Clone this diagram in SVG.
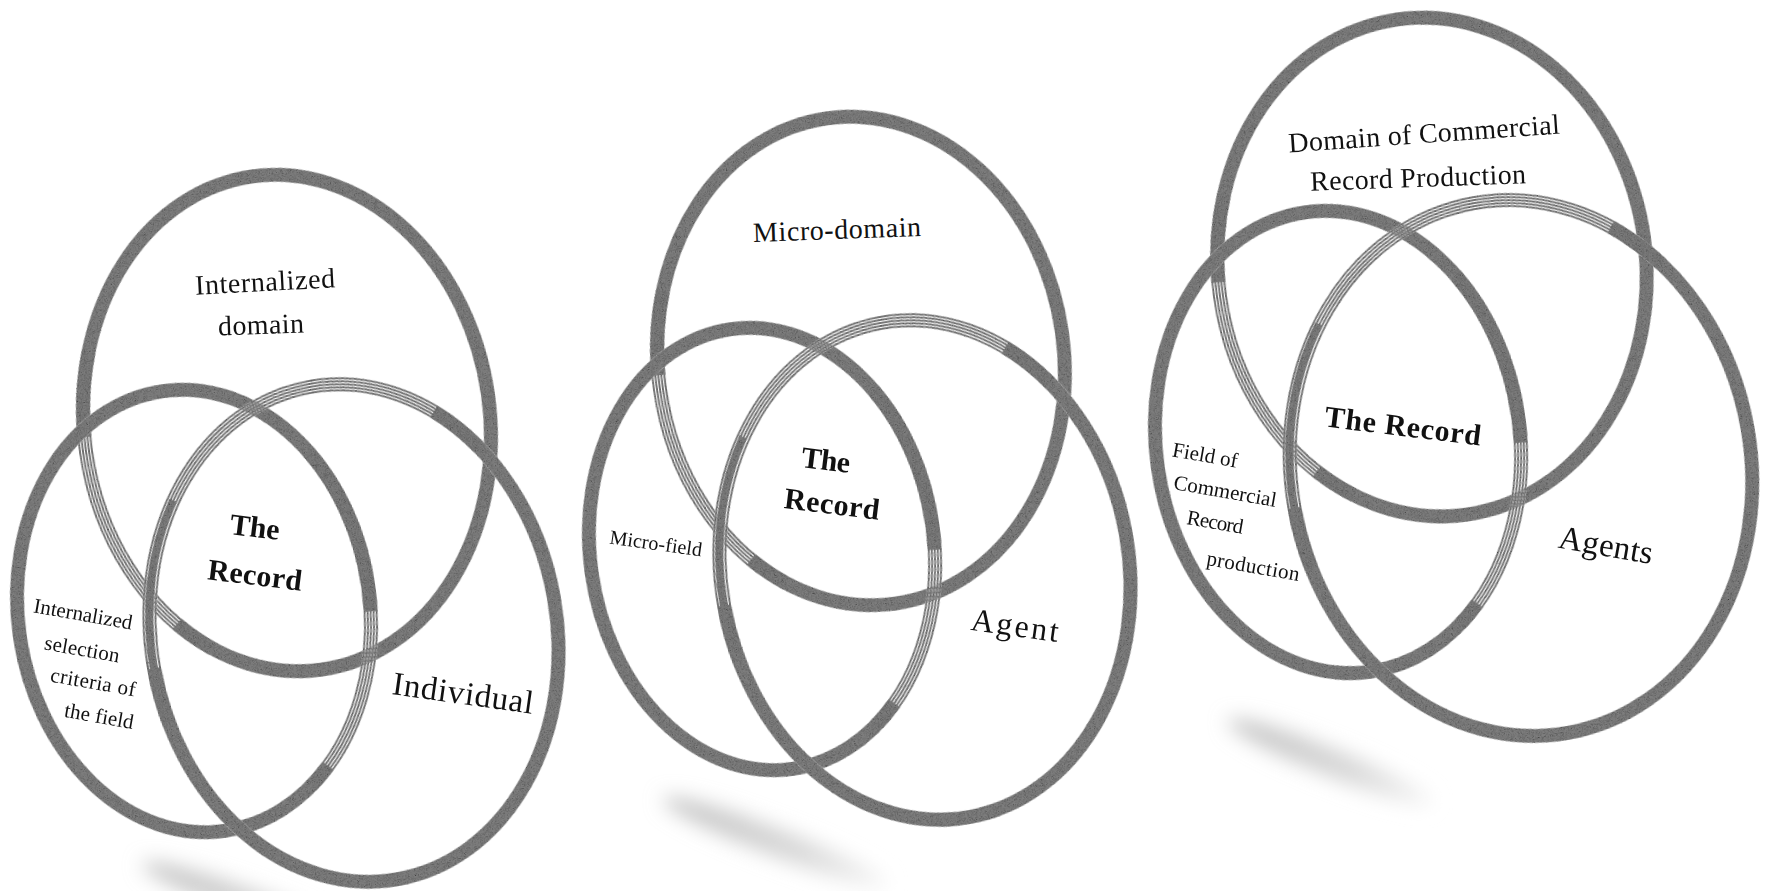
<svg xmlns="http://www.w3.org/2000/svg" width="1767" height="891" viewBox="0 0 1767 891">
  <defs>
    <style>
      .thick { fill: none; stroke: #7e7e7e; stroke-width: 14; }
      .mid { fill: none; stroke: #808080; stroke-width: 7; }
      .strand { fill: none; stroke: #7a7a7a; stroke-width: 2; }
      .lbl { font-family: "Liberation Serif", "DejaVu Serif", serif; fill: #111111; text-anchor: middle; }
      .bold { font-weight: bold; }
    </style>
    <!-- speckled ink texture for the brush rings -->
    <filter id="grain" filterUnits="userSpaceOnUse" x="0" y="0" width="1767" height="891">
      <feGaussianBlur in="SourceGraphic" stdDeviation="0.5" result="s"/>
      <feTurbulence type="fractalNoise" baseFrequency="1.1" numOctaves="2" seed="7" result="t"/>
      <feColorMatrix in="t" type="matrix" values="1 1 1 0 -0.62  1 1 1 0 -0.62  1 1 1 0 -0.62  0 0 0 0 1" result="g"/>
      <feComposite in="g" in2="s" operator="in" result="gc"/>
      <feBlend in="s" in2="gc" mode="multiply"/>
    </filter>
    <filter id="soft" x="-50%" y="-300%" width="200%" height="700%">
      <feGaussianBlur stdDeviation="10"/>
    </filter>
    <linearGradient id="shade" x1="0" y1="0" x2="1" y2="0">
      <stop offset="0" stop-color="#c2c2c2"/>
      <stop offset="0.6" stop-color="#d8d8d8"/>
      <stop offset="1" stop-color="#f4f4f4"/>
    </linearGradient>
  </defs>

  <rect width="1767" height="891" fill="#ffffff"/>

  <!-- soft drop shadows under each set of rings -->
  <g id="shadows" filter="url(#soft)">
    <ellipse cx="255" cy="905" rx="120" ry="14" fill="url(#shade)" transform="rotate(20 255 905)"/>
    <ellipse cx="775" cy="842" rx="120" ry="14" fill="url(#shade)" transform="rotate(21 775 842)"/>
    <ellipse cx="1330" cy="762" rx="110" ry="14" fill="url(#shade)" transform="rotate(22 1330 762)"/>
  </g>

  <!-- ===== Set 1 ===== -->
  <g id="set1-domain">
    <g filter="url(#grain)" transform="rotate(-8 287 423)">
      <ellipse class="thick" cx="287" cy="423" rx="203" ry="249" pathLength="100" stroke-dasharray="85 15" stroke-dashoffset="-51"/>
      <ellipse class="strand" cx="287" cy="423" rx="197" ry="243" pathLength="100" stroke-dasharray="24 76" stroke-dashoffset="-33"/>
      <ellipse class="strand" cx="287" cy="423" rx="200" ry="246" pathLength="100" stroke-dasharray="24 76" stroke-dashoffset="-33"/>
      <ellipse class="strand" cx="287" cy="423" rx="203" ry="249" pathLength="100" stroke-dasharray="24 76" stroke-dashoffset="-33"/>
      <ellipse class="strand" cx="287" cy="423" rx="206" ry="252" pathLength="100" stroke-dasharray="24 76" stroke-dashoffset="-33"/>
      <ellipse class="strand" cx="287" cy="423" rx="209" ry="255" pathLength="100" stroke-dasharray="24 76" stroke-dashoffset="-33"/>
    </g>
    <text class="lbl" font-size="28" x="265" y="291" textLength="140" transform="rotate(-3 265 282)">Internalized</text>
    <text class="lbl" font-size="28" x="261" y="334" textLength="86" transform="rotate(-2 261 325)">domain</text>
  </g>

  <g id="set1-field">
    <g filter="url(#grain)" transform="rotate(-8 194 611)">
      <ellipse class="thick" cx="194" cy="611" rx="176" ry="222" pathLength="100" stroke-dasharray="87 13" stroke-dashoffset="-15"/>
      <ellipse class="strand" cx="194" cy="611" rx="170" ry="216" pathLength="100" stroke-dasharray="29 71" stroke-dashoffset="-88"/>
      <ellipse class="strand" cx="194" cy="611" rx="173" ry="219" pathLength="100" stroke-dasharray="29 71" stroke-dashoffset="-88"/>
      <ellipse class="strand" cx="194" cy="611" rx="176" ry="222" pathLength="100" stroke-dasharray="29 71" stroke-dashoffset="-88"/>
      <ellipse class="strand" cx="194" cy="611" rx="179" ry="225" pathLength="100" stroke-dasharray="29 71" stroke-dashoffset="-88"/>
      <ellipse class="strand" cx="194" cy="611" rx="182" ry="228" pathLength="100" stroke-dasharray="29 71" stroke-dashoffset="-88"/>
    </g>
    <text class="lbl" font-size="21" x="83" y="621" textLength="100" transform="rotate(10 83 615)">Internalized</text>
    <text class="lbl" font-size="21" x="82" y="656" textLength="76" transform="rotate(10 82 650)">selection</text>
    <text class="lbl" font-size="21" x="93" y="689" textLength="86" transform="rotate(10 93 683)">criteria of</text>
    <text class="lbl" font-size="21" x="99" y="723" textLength="70" transform="rotate(10 99 717)">the field</text>
  </g>

  <g id="set1-individual">
    <g filter="url(#grain)" transform="rotate(-10 354 633)">
      <ellipse class="thick" cx="354" cy="633" rx="203" ry="250" pathLength="100" stroke-dasharray="66 34" stroke-dashoffset="-84"/>
      <ellipse class="mid" cx="354" cy="633" rx="204" ry="251" pathLength="100" stroke-dasharray="14 86" stroke-dashoffset="-48"/>
      <ellipse class="strand" cx="354" cy="633" rx="197" ry="244" pathLength="100" stroke-dasharray="42 58" stroke-dashoffset="-46"/>
      <ellipse class="strand" cx="354" cy="633" rx="200" ry="247" pathLength="100" stroke-dasharray="42 58" stroke-dashoffset="-46"/>
      <ellipse class="strand" cx="354" cy="633" rx="203" ry="250" pathLength="100" stroke-dasharray="42 58" stroke-dashoffset="-46"/>
      <ellipse class="strand" cx="354" cy="633" rx="206" ry="253" pathLength="100" stroke-dasharray="42 58" stroke-dashoffset="-46"/>
      <ellipse class="strand" cx="354" cy="633" rx="209" ry="256" pathLength="100" stroke-dasharray="42 58" stroke-dashoffset="-46"/>
    </g>
    <text class="lbl" font-size="33" x="463" y="704" textLength="142" transform="rotate(8 463 693)">Individual</text>
  </g>

  <g id="set1-record">
    <text class="lbl bold" font-size="30" x="255" y="537" textLength="50" transform="rotate(7 255 527)">The</text>
    <text class="lbl bold" font-size="30" x="255" y="585" textLength="95" transform="rotate(7 255 575)">Record</text>
  </g>

  <!-- ===== Set 2 ===== -->
  <g id="set2-domain">
    <g filter="url(#grain)" transform="rotate(-8 861 361)">
      <ellipse class="thick" cx="861" cy="361" rx="203" ry="245" pathLength="100" stroke-dasharray="85 15" stroke-dashoffset="-51"/>
      <ellipse class="strand" cx="861" cy="361" rx="197" ry="239" pathLength="100" stroke-dasharray="24 76" stroke-dashoffset="-33"/>
      <ellipse class="strand" cx="861" cy="361" rx="200" ry="242" pathLength="100" stroke-dasharray="24 76" stroke-dashoffset="-33"/>
      <ellipse class="strand" cx="861" cy="361" rx="203" ry="245" pathLength="100" stroke-dasharray="24 76" stroke-dashoffset="-33"/>
      <ellipse class="strand" cx="861" cy="361" rx="206" ry="248" pathLength="100" stroke-dasharray="24 76" stroke-dashoffset="-33"/>
      <ellipse class="strand" cx="861" cy="361" rx="209" ry="251" pathLength="100" stroke-dasharray="24 76" stroke-dashoffset="-33"/>
    </g>
    <text class="lbl" font-size="28" x="837" y="239" textLength="168" transform="rotate(-2 837 230)">Micro-domain</text>
  </g>

  <g id="set2-field">
    <g filter="url(#grain)" transform="rotate(-8 762 549)">
      <ellipse class="thick" cx="762" cy="549" rx="172" ry="222" pathLength="100" stroke-dasharray="87 13" stroke-dashoffset="-15"/>
      <ellipse class="strand" cx="762" cy="549" rx="166" ry="216" pathLength="100" stroke-dasharray="29 71" stroke-dashoffset="-88"/>
      <ellipse class="strand" cx="762" cy="549" rx="169" ry="219" pathLength="100" stroke-dasharray="29 71" stroke-dashoffset="-88"/>
      <ellipse class="strand" cx="762" cy="549" rx="172" ry="222" pathLength="100" stroke-dasharray="29 71" stroke-dashoffset="-88"/>
      <ellipse class="strand" cx="762" cy="549" rx="175" ry="225" pathLength="100" stroke-dasharray="29 71" stroke-dashoffset="-88"/>
      <ellipse class="strand" cx="762" cy="549" rx="178" ry="228" pathLength="100" stroke-dasharray="29 71" stroke-dashoffset="-88"/>
    </g>
    <text class="lbl" font-size="20" x="656" y="550" textLength="93" transform="rotate(8 656 543)">Micro-field</text>
  </g>

  <g id="set2-agent">
    <g filter="url(#grain)" transform="rotate(-10 925 570)">
      <ellipse class="thick" cx="925" cy="570" rx="204" ry="251" pathLength="100" stroke-dasharray="66 34" stroke-dashoffset="-84"/>
      <ellipse class="mid" cx="925" cy="570" rx="205" ry="252" pathLength="100" stroke-dasharray="14 86" stroke-dashoffset="-48"/>
      <ellipse class="strand" cx="925" cy="570" rx="198" ry="245" pathLength="100" stroke-dasharray="42 58" stroke-dashoffset="-46"/>
      <ellipse class="strand" cx="925" cy="570" rx="201" ry="248" pathLength="100" stroke-dasharray="42 58" stroke-dashoffset="-46"/>
      <ellipse class="strand" cx="925" cy="570" rx="204" ry="251" pathLength="100" stroke-dasharray="42 58" stroke-dashoffset="-46"/>
      <ellipse class="strand" cx="925" cy="570" rx="207" ry="254" pathLength="100" stroke-dasharray="42 58" stroke-dashoffset="-46"/>
      <ellipse class="strand" cx="925" cy="570" rx="210" ry="257" pathLength="100" stroke-dasharray="42 58" stroke-dashoffset="-46"/>
    </g>
    <text class="lbl" font-size="32" x="1015" y="636" textLength="88" transform="rotate(8 1015 625)">Agent</text>
  </g>

  <g id="set2-record">
    <text class="lbl bold" font-size="30" x="826" y="470" textLength="49" transform="rotate(7 826 460)">The</text>
    <text class="lbl bold" font-size="30" x="832" y="514" textLength="96" transform="rotate(7 832 504)">Record</text>
  </g>

  <!-- ===== Set 3 ===== -->
  <g id="set3-domain">
    <g filter="url(#grain)" transform="rotate(-8 1432 267)">
      <ellipse class="thick" cx="1432" cy="267" rx="214" ry="250" pathLength="100" stroke-dasharray="85 15" stroke-dashoffset="-51"/>
      <ellipse class="strand" cx="1432" cy="267" rx="208" ry="244" pathLength="100" stroke-dasharray="24 76" stroke-dashoffset="-33"/>
      <ellipse class="strand" cx="1432" cy="267" rx="211" ry="247" pathLength="100" stroke-dasharray="24 76" stroke-dashoffset="-33"/>
      <ellipse class="strand" cx="1432" cy="267" rx="214" ry="250" pathLength="100" stroke-dasharray="24 76" stroke-dashoffset="-33"/>
      <ellipse class="strand" cx="1432" cy="267" rx="217" ry="253" pathLength="100" stroke-dasharray="24 76" stroke-dashoffset="-33"/>
      <ellipse class="strand" cx="1432" cy="267" rx="220" ry="256" pathLength="100" stroke-dasharray="24 76" stroke-dashoffset="-33"/>
    </g>
    <text class="lbl" font-size="28" x="1424" y="143" textLength="272" transform="rotate(-4 1424 133)">Domain of Commercial</text>
    <text class="lbl" font-size="28" x="1418" y="187" textLength="216" transform="rotate(-2 1418 177)">Record Production</text>
  </g>

  <g id="set3-field">
    <g filter="url(#grain)" transform="rotate(-8 1338 442)">
      <ellipse class="thick" cx="1338" cy="442" rx="182" ry="232" pathLength="100" stroke-dasharray="87 13" stroke-dashoffset="-15"/>
      <ellipse class="strand" cx="1338" cy="442" rx="176" ry="226" pathLength="100" stroke-dasharray="29 71" stroke-dashoffset="-88"/>
      <ellipse class="strand" cx="1338" cy="442" rx="179" ry="229" pathLength="100" stroke-dasharray="29 71" stroke-dashoffset="-88"/>
      <ellipse class="strand" cx="1338" cy="442" rx="182" ry="232" pathLength="100" stroke-dasharray="29 71" stroke-dashoffset="-88"/>
      <ellipse class="strand" cx="1338" cy="442" rx="185" ry="235" pathLength="100" stroke-dasharray="29 71" stroke-dashoffset="-88"/>
      <ellipse class="strand" cx="1338" cy="442" rx="188" ry="238" pathLength="100" stroke-dasharray="29 71" stroke-dashoffset="-88"/>
    </g>
    <text class="lbl" font-size="21" x="1205" y="462" textLength="66" transform="rotate(10 1205 456)">Field of</text>
    <text class="lbl" font-size="21" x="1225" y="498" textLength="104" transform="rotate(10 1225 492)">Commercial</text>
    <text class="lbl" font-size="21" x="1215" y="529" textLength="57" transform="rotate(10 1215 523)">Record</text>
    <text class="lbl" font-size="21" x="1253" y="573" textLength="94" transform="rotate(10 1253 567)">production</text>
  </g>

  <g id="set3-agents">
    <g filter="url(#grain)" transform="rotate(-10 1521 468)">
      <ellipse class="thick" cx="1521" cy="468" rx="230" ry="269" pathLength="100" stroke-dasharray="66 34" stroke-dashoffset="-84"/>
      <ellipse class="mid" cx="1521" cy="468" rx="231" ry="270" pathLength="100" stroke-dasharray="14 86" stroke-dashoffset="-48"/>
      <ellipse class="strand" cx="1521" cy="468" rx="224" ry="263" pathLength="100" stroke-dasharray="42 58" stroke-dashoffset="-46"/>
      <ellipse class="strand" cx="1521" cy="468" rx="227" ry="266" pathLength="100" stroke-dasharray="42 58" stroke-dashoffset="-46"/>
      <ellipse class="strand" cx="1521" cy="468" rx="230" ry="269" pathLength="100" stroke-dasharray="42 58" stroke-dashoffset="-46"/>
      <ellipse class="strand" cx="1521" cy="468" rx="233" ry="272" pathLength="100" stroke-dasharray="42 58" stroke-dashoffset="-46"/>
      <ellipse class="strand" cx="1521" cy="468" rx="236" ry="275" pathLength="100" stroke-dasharray="42 58" stroke-dashoffset="-46"/>
    </g>
    <text class="lbl" font-size="33" x="1606" y="556" textLength="95" transform="rotate(10 1606 545)">Agents</text>
  </g>

  <g id="set3-record">
    <text class="lbl bold" font-size="30" x="1403" y="436" textLength="157" transform="rotate(7 1403 426)">The Record</text>
  </g>
</svg>
